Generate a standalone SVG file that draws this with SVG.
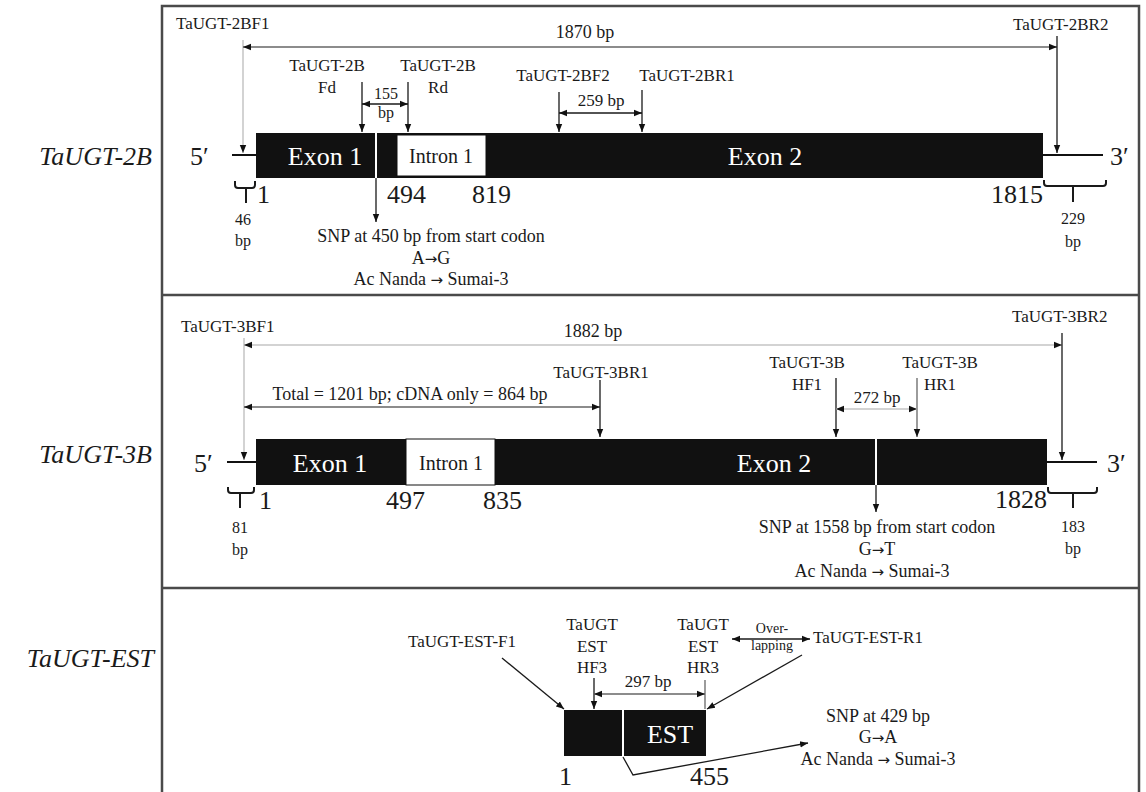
<svg xmlns="http://www.w3.org/2000/svg" width="1146" height="792" viewBox="0 0 1146 792">
<defs>
<style>
text{font-family:"Liberation Serif","Times New Roman",serif;fill:#1a1a1a}
.p{font-size:17px}
.s{font-size:16px}
.n{font-size:26px}
.snp{font-size:18px;text-anchor:middle}
.c{text-anchor:middle}
.w{fill:#fff}
.ar{font-family:"DejaVu Sans",sans-serif;font-size:15px}
.lab{font-size:26px;font-style:italic;text-anchor:end}
.ln{stroke:#1a1a1a;stroke-width:1.3;fill:none}
.lg{stroke:#c4c4c4;stroke-width:1.5;fill:none}
.lm{stroke:#666;stroke-width:1.3;fill:none}
.br{stroke:#1a1a1a;stroke-width:2;fill:none}
.bar{fill:#111}
.intr{fill:#fff;stroke:#111;stroke-width:1}
.dna{stroke:#111;stroke-width:2}
.frame{fill:none;stroke:#4a4a4a;stroke-width:2.5}
</style>
<marker id="ah" viewBox="0 0 10 10" refX="10" refY="5" markerWidth="8" markerHeight="8" markerUnits="userSpaceOnUse" orient="auto-start-reverse"><path d="M0,1 L10,5 L0,9 z" fill="#111"/></marker>
</defs>
<rect width="1146" height="792" fill="#fff"/>

<g id="frame">
<rect class="frame" x="162" y="6" width="977" height="800"/>
<line class="frame" x1="162" y1="295" x2="1139" y2="295"/>
<line class="frame" x1="162" y1="588" x2="1139" y2="588"/>
</g>

<g id="labels">
<text class="lab" x="152" y="165">TaUGT-2B</text>
<text class="lab" x="152" y="463">TaUGT-3B</text>
<text class="lab" x="154" y="667">TaUGT-EST</text>
</g>

<g id="gene-2B">
<line class="dna" x1="232" y1="155" x2="256" y2="155"/>
<line class="dna" x1="1043" y1="155" x2="1103" y2="155"/>
<rect class="bar" x="256" y="133" width="787" height="45"/>
<rect class="intr" x="397" y="135" width="89" height="41"/>
<line x1="376" y1="133" x2="376" y2="178" stroke="#fff" stroke-width="2"/>
<text class="n" x="190" y="165">5′</text>
<text class="n" x="1110" y="165">3′</text>
<text class="n w" x="325" y="165" text-anchor="middle">Exon 1</text>
<text class="c" x="441" y="163" font-size="20">Intron 1</text>
<text class="n w" x="765" y="165" text-anchor="middle">Exon 2</text>
<text class="n" x="257" y="203">1</text>
<text class="n" x="387" y="203">494</text>
<text class="n" x="472" y="203">819</text>
<text class="n" x="991" y="203">1815</text>
<text class="s c" x="243" y="225">46</text>
<text class="s c" x="243" y="246">bp</text>
<text class="s c" x="1073" y="224">229</text>
<text class="s c" x="1073" y="247">bp</text>
<text class="snp" x="431" y="242">SNP at 450 bp from start codon</text>
<text class="snp" x="431" y="264">A<tspan class="ar">→</tspan>G</text>
<text class="snp" x="431" y="285">Ac Nanda <tspan class="ar">→</tspan> Sumai-3</text>
</g>

<g id="primers-2B">
<text class="p" x="176" y="29">TaUGT-2BF1</text>
<text class="p" x="1013" y="30">TaUGT-2BR2</text>
<text class="snp" x="585" y="38">1870 bp</text>
<text class="p c" x="327" y="71">TaUGT-2B</text>
<text class="p c" x="327" y="93">Fd</text>
<text class="p c" x="438" y="71">TaUGT-2B</text>
<text class="p c" x="438" y="93">Rd</text>
<text class="s c" x="386" y="99">155</text>
<text class="s c" x="386" y="118">bp</text>
<text class="p c" x="563" y="81">TaUGT-2BF2</text>
<text class="p c" x="687" y="81">TaUGT-2BR1</text>
<text class="p c" x="601" y="106">259 bp</text>
</g>

<g id="gene-3B">
<line class="dna" x1="227" y1="462" x2="256" y2="462"/>
<line class="dna" x1="1047" y1="462" x2="1097" y2="462"/>
<rect class="bar" x="256" y="439" width="791" height="46"/>
<rect class="intr" x="406" y="439" width="89" height="46"/>
<line x1="876" y1="439" x2="876" y2="485" stroke="#fff" stroke-width="2"/>
<text class="n" x="194" y="472">5′</text>
<text class="n" x="1107" y="472">3′</text>
<text class="n w" x="330" y="472" text-anchor="middle">Exon 1</text>
<text class="c" x="451" y="470" font-size="20">Intron 1</text>
<text class="n w" x="774" y="472" text-anchor="middle">Exon 2</text>
<text class="n" x="259" y="509">1</text>
<text class="n" x="386" y="509">497</text>
<text class="n" x="483" y="509">835</text>
<text class="n" x="995" y="508">1828</text>
<text class="s c" x="240" y="533">81</text>
<text class="s c" x="240" y="555">bp</text>
<text class="s c" x="1073" y="532">183</text>
<text class="s c" x="1073" y="554">bp</text>
<text class="snp" x="877" y="533">SNP at 1558 bp from start codon</text>
<text class="snp" x="877" y="555">G<tspan class="ar">→</tspan>T</text>
<text class="snp" x="872" y="577">Ac Nanda <tspan class="ar">→</tspan> Sumai-3</text>
</g>

<g id="primers-3B">
<text class="p" x="181" y="332">TaUGT-3BF1</text>
<text class="p" x="1012" y="322">TaUGT-3BR2</text>
<text class="snp" x="593" y="337">1882 bp</text>
<text class="p c" x="601" y="378">TaUGT-3BR1</text>
<text x="410" y="400" font-size="18" text-anchor="middle">Total = 1201 bp; cDNA only = 864 bp</text>
<text class="p c" x="807" y="368">TaUGT-3B</text>
<text class="p c" x="807" y="390">HF1</text>
<text class="p c" x="940" y="368">TaUGT-3B</text>
<text class="p c" x="940" y="390">HR1</text>
<text class="p c" x="877" y="403">272 bp</text>
</g>

<g id="gene-EST">
<rect class="bar" x="564" y="710" width="142" height="46"/>
<line x1="623" y1="710" x2="623" y2="756" stroke="#fff" stroke-width="2"/>
<text class="n w" x="670" y="743" text-anchor="middle">EST</text>
<text class="n" x="559" y="785">1</text>
<text class="n" x="690" y="785">455</text>
<text class="p c" x="462" y="647">TaUGT-EST-F1</text>
<text class="p c" x="592" y="630">TaUGT</text>
<text class="p c" x="592" y="652">EST</text>
<text class="p c" x="592" y="673">HF3</text>
<text class="p c" x="703" y="630">TaUGT</text>
<text class="p c" x="703" y="652">EST</text>
<text class="p c" x="703" y="673">HR3</text>
<text class="p c" x="648" y="687">297 bp</text>
<text class="c" x="772" y="633" font-size="14">Over-</text>
<text class="c" x="772" y="650" font-size="14">lapping</text>
<text class="p" x="813" y="643">TaUGT-EST-R1</text>
<text class="snp" x="878" y="722">SNP at 429 bp</text>
<text class="snp" x="878" y="743">G<tspan class="ar">→</tspan>A</text>
<text class="snp" x="878" y="765">Ac Nanda <tspan class="ar">→</tspan> Sumai-3</text>
</g>

<g id="connectors">
<line class="lg" x1="243" y1="40" x2="243" y2="153" marker-end="url(#ah)"/>
<line class="lm" x1="243" y1="47" x2="1057" y2="47" marker-start="url(#ah)" marker-end="url(#ah)"/>
<line class="ln" x1="1057" y1="36" x2="1057" y2="153" marker-end="url(#ah)"/>
<line class="ln" x1="362" y1="82" x2="362" y2="132" marker-end="url(#ah)"/>
<line class="ln" x1="408" y1="82" x2="408" y2="132" marker-end="url(#ah)"/>
<line class="ln" x1="362" y1="104" x2="408" y2="104" marker-start="url(#ah)" marker-end="url(#ah)"/>
<line class="ln" x1="559" y1="92" x2="559" y2="132" marker-end="url(#ah)"/>
<line class="ln" x1="642" y1="90" x2="642" y2="132" marker-end="url(#ah)"/>
<line class="ln" x1="559" y1="113" x2="642" y2="113" marker-start="url(#ah)" marker-end="url(#ah)"/>
<line class="ln" x1="376" y1="178" x2="376" y2="222" marker-end="url(#ah)"/>
<path class="br" d="M235,181 V185 Q235,188 238,188 H252 Q255,188 255,185 V181 M246,188 V203"/>
<path class="br" d="M1044,180 V183 Q1044,186 1047,186 H1103 Q1106,186 1106,183 V180 M1073,186 V202"/>

<line class="lg" x1="244" y1="338" x2="244" y2="460" marker-end="url(#ah)"/>
<line class="lg" x1="244" y1="345" x2="1062" y2="345" marker-start="url(#ah)" marker-end="url(#ah)"/>
<line class="ln" x1="1062" y1="333" x2="1062" y2="460" marker-end="url(#ah)"/>
<line class="lm" x1="244" y1="407" x2="600" y2="407" marker-start="url(#ah)" marker-end="url(#ah)"/>
<line class="ln" x1="600" y1="380" x2="600" y2="437" marker-end="url(#ah)"/>
<line class="ln" x1="836" y1="378" x2="836" y2="437" marker-end="url(#ah)"/>
<line class="lm" x1="917" y1="378" x2="917" y2="437" marker-end="url(#ah)"/>
<line class="lg" x1="836" y1="409" x2="917" y2="409" marker-start="url(#ah)" marker-end="url(#ah)"/>
<line class="ln" x1="876" y1="485" x2="876" y2="512" marker-end="url(#ah)"/>
<path class="br" d="M228,487 V490 Q228,493 231,493 H251 Q254,493 254,490 V487 M240,493 V508"/>
<path class="br" d="M1048,487 V490 Q1048,493 1051,493 H1094 Q1097,493 1097,490 V487 M1073,493 V508"/>

<line class="ln" x1="502" y1="658" x2="564" y2="709" marker-end="url(#ah)"/>
<line class="ln" x1="802" y1="655" x2="707" y2="709" marker-end="url(#ah)"/>
<line class="ln" x1="594" y1="678" x2="594" y2="709" marker-end="url(#ah)"/>
<line class="lm" x1="705" y1="680" x2="705" y2="709"/>
<line class="lm" x1="594" y1="694" x2="705" y2="694" marker-start="url(#ah)" marker-end="url(#ah)"/>
<line class="ln" stroke-width="2" x1="732" y1="639" x2="810" y2="639" marker-start="url(#ah)" marker-end="url(#ah)"/>
<polyline class="ln" points="623,757 633,775 808,743" marker-end="url(#ah)"/>
</g>
</svg>
